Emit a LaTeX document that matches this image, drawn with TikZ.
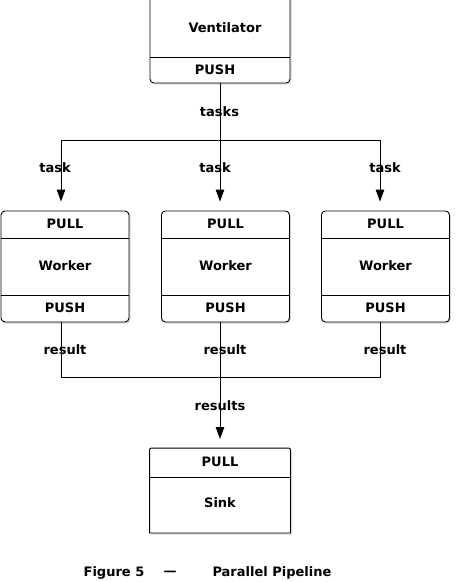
\documentclass[tikz,border=0pt]{standalone}
\usepackage{fontspec}
\setmainfont{DejaVu Sans}
\usetikzlibrary{arrows.meta,shadows}
\begin{document}
\begin{tikzpicture}[x=1pt,y=-1pt,
  line width=0.9pt,
  every node/.style={font=\fontsize{13}{15}\selectfont\bfseries, inner sep=1pt},
  boxshape/.style={draw, fill=white, rounded corners=4pt, line width=0.9pt,
     drop shadow={shadow xshift=1.6pt, shadow yshift=-1.6pt, opacity=0.3}},
  arr/.style={-{Triangle[length=12pt,width=8.5pt]}, shorten >=9pt},
  lbl/.style={fill=none}]
\useasboundingbox (0,0) rectangle (456,582);
% Ventilator (top clipped)
\node[boxshape, minimum width=140pt, minimum height=93pt, inner sep=0pt] (vent) at (220,36.5) {};
\draw (150,57) -- (290,57);
\node (ventt) at (225,28) {Ventilator};
\node (ventpush) at (215,70) {PUSH};
% Workers
\foreach \i/\cx in {1/65, 2/225.5, 3/385.5}{
  \node[boxshape, minimum width=128pt, minimum height=111pt, inner sep=0pt] (w\i) at (\cx,266.5) {};
  \draw (w\i.west |- 0,238) -- (w\i.east |- 0,238);
  \draw (w\i.west |- 0,295) -- (w\i.east |- 0,295);
  \node (wpull\i) at (\cx,224) {PULL};
  \node (wname\i) at (\cx,266) {Worker};
  \node (wpush\i) at (\cx,308) {PUSH};
}
% Sink
\node[minimum width=140pt, minimum height=84pt, inner sep=0pt] (sink) at (220,490.5) {};
\draw[fill=white, drop shadow={shadow xshift=1.6pt, shadow yshift=-1.6pt, opacity=0.3}]
  (sink.south west) -- ([yshift=-4pt]sink.north west) .. controls (sink.north west) .. ([xshift=4pt]sink.north west)
  -- ([xshift=-4pt]sink.north east) .. controls (sink.north east) .. ([yshift=-4pt]sink.north east)
  -- (sink.south east) -- cycle;
\draw (150,477) -- (290,477);
\node (sinkpull) at (220,462) {PULL};
\node (sinkname) at (220,503) {Sink};
% connectors: tasks
\coordinate (tj) at (220,140);
\coordinate (tl) at (61,140);
\coordinate (tr) at (380,140);
\draw (vent.south -| tj) -- (tj);
\draw (tl) -- (tr);
\draw[arr] (tl) -- (tl |- w1.north);
\draw[arr] (tj) -- (tj |- w2.north);
\draw[arr] (tr) -- (tr |- w3.north);
% connectors: results
\coordinate (rj) at (220,377);
\coordinate (rl) at (61,377);
\coordinate (rr) at (380,377);
\draw (rl |- w1.south) -- (rl) -- (rr) -- (rr |- w3.south);
\draw (rj |- w2.south) -- (rj);
\draw[arr] (rj) -- (rj |- sink.north);
% labels
\node[lbl] (ltasks) at (219.5,112) {tasks};
\node[lbl] (lt1) at (55,168) {task};
\node[lbl] (lt2) at (215,168) {task};
\node[lbl] (lt3) at (385,168) {task};
\node[lbl] (lr1) at (65,350) {result};
\node[lbl] (lr2) at (225,350) {result};
\node[lbl] (lr3) at (385,350) {result};
\node[lbl] (lres) at (220,406) {results};
% caption
\node (cap1) at (114,573) {Figure 5};
\node (cap2) at (170,573) {\textemdash};
\node (cap3) at (272,573) {Parallel Pipeline};
\end{tikzpicture}
\end{document}
